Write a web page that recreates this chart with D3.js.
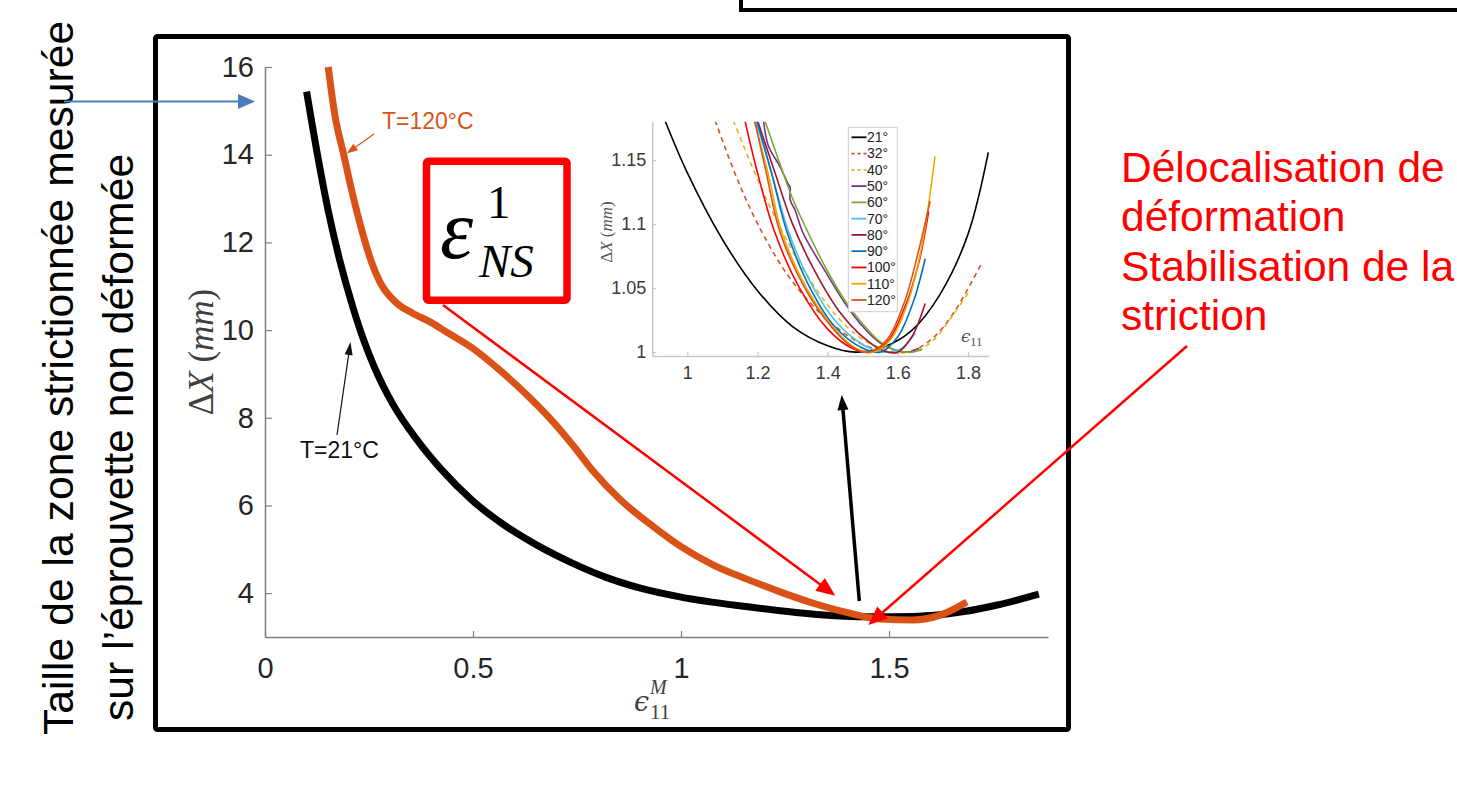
<!DOCTYPE html>
<html>
<head>
<meta charset="utf-8">
<script src="https://cdn.jsdelivr.net/npm/d3@7"></script>
<style>
  body { margin: 0; background: #fff; }
  svg { display: block; }
</style>
</head>
<body>
<svg width="1457" height="792" font-family="'Liberation Sans', Arial, sans-serif"></svg>
<script>
// main plot: [strain eps11^M, deltaX (mm)]
const curve21 = [[0.100,15.44],[0.128,13.9],[0.152,12.72],[0.18,11.58],[0.212,10.5],[0.24,9.7],[0.26,9.22],[0.308,8.3],[0.365,7.5],[0.421,6.85],[0.5,6.1],[0.58,5.52],[0.66,5.06],[0.74,4.68],[0.82,4.36],[0.9,4.12],[1.0,3.91],[1.16,3.69],[1.32,3.52],[1.45,3.46],[1.56,3.47],[1.68,3.58],[1.76,3.73],[1.86,3.98]];
const curve120 = [[0.152,16.0],[0.168,14.9],[0.188,14.05],[0.208,13.2],[0.232,12.3],[0.256,11.55],[0.276,11.1],[0.316,10.62],[0.356,10.38],[0.40,10.17],[0.437,9.95],[0.50,9.58],[0.565,9.08],[0.637,8.45],[0.693,7.9],[0.741,7.36],[0.789,6.78],[0.853,6.14],[0.933,5.52],[1.0,5.06],[1.078,4.64],[1.158,4.32],[1.238,4.03],[1.318,3.77],[1.398,3.56],[1.478,3.41],[1.558,3.39],[1.623,3.50],[1.687,3.80]];
const mainXTicks = [0, 0.5, 1, 1.5];
const mainYTicks = [4, 6, 8, 10, 12, 14, 16];

// inset: normalised deltaX vs eps11
const insetNames = ["21°", "32°", "40°", "50°", "60°", "70°", "80°", "90°", "100°", "110°", "120°"];
const insetColors = ["#000000", "#D95319", "#EDB120", "#7E2F8E", "#77AC30", "#4DBEEE", "#A2142F", "#0072BD", "#FF0000", "#F0A800", "#D95319"];
const insetDashed = [false, true, true, false, false, false, false, false, false, false, false];
const inset21 = [[0.936,1.181],[1.0,1.14],[1.1,1.088],[1.2,1.048],[1.3,1.02],[1.4,1.005],[1.48,1.0],[1.56,1.004],[1.64,1.017],[1.72,1.045],[1.8,1.092],[1.858,1.156]];
const inset32 = [[1.079,1.181],[1.15,1.13],[1.22,1.09],[1.3,1.055],[1.4,1.025],[1.5,1.006],[1.58,1.0],[1.64,1.001],[1.70,1.011],[1.76,1.031],[1.84,1.07]];
const inset40 = [[1.131,1.181],[1.2,1.135],[1.26,1.1],[1.33,1.065],[1.42,1.03],[1.5,1.01],[1.58,1.001],[1.64,1.0],[1.70,1.009],[1.76,1.03],[1.80,1.046]];
const inset50 = [[1.217,1.181],[1.231,1.161],[1.264,1.145],[1.288,1.131],[1.293,1.129],[1.293,1.119],[1.307,1.111],[1.33,1.093],[1.4,1.06],[1.45,1.038],[1.5,1.02],[1.55,1.007],[1.6,1.001],[1.63,1.0],[1.66,1.003]];
const inset60 = [[1.221,1.181],[1.26,1.15],[1.3,1.12],[1.35,1.09],[1.4,1.063],[1.45,1.04],[1.5,1.022],[1.55,1.008],[1.6,1.001],[1.64,1.0],[1.67,1.002]];
const inset70 = [[1.195,1.181],[1.24,1.14],[1.29,1.093],[1.35,1.055],[1.42,1.025],[1.5,1.006],[1.56,1.0],[1.61,1.003],[1.65,1.015]];
const inset80 = [[1.2,1.181],[1.25,1.14],[1.3,1.1],[1.36,1.065],[1.43,1.033],[1.5,1.012],[1.56,1.001],[1.6,1.0],[1.64,1.012],[1.678,1.038]];
const inset90 = [[1.198,1.181],[1.24,1.14],[1.285,1.093],[1.35,1.05],[1.42,1.02],[1.5,1.003],[1.55,1.0],[1.6,1.012],[1.645,1.04],[1.678,1.073]];
const inset100 = [[1.164,1.181],[1.2,1.14],[1.25,1.093],[1.32,1.05],[1.4,1.018],[1.47,1.003],[1.52,1.0],[1.57,1.008],[1.62,1.035],[1.66,1.07],[1.688,1.11]];
const inset110 = [[1.19,1.181],[1.23,1.14],[1.27,1.093],[1.34,1.05],[1.42,1.018],[1.48,1.003],[1.53,1.0],[1.58,1.01],[1.63,1.04],[1.67,1.085],[1.706,1.153]];
const inset120 = [[1.192,1.181],[1.225,1.14],[1.265,1.093],[1.335,1.05],[1.41,1.02],[1.47,1.004],[1.52,1.0],[1.57,1.01],[1.62,1.04],[1.66,1.08],[1.692,1.118]];
const insetSeries = [inset21, inset32, inset40, inset50, inset60, inset70, inset80, inset90, inset100, inset110, inset120];
const insetXTicks = [1, 1.2, 1.4, 1.6, 1.8];
const insetYTicks = [1, 1.05, 1.1, 1.15];

const sideLabel = ["Taille de la zone strictionnée mesurée", "sur l’éprouvette non déformée"];
const noteLines = ["Délocalisation de", "déformation", "Stabilisation de la", "striction"];

const SERIF = "'Liberation Serif', 'Times New Roman', serif";
const MATH = "'DejaVu Serif', serif";

let svg = d3.select("svg");

function render() {
  renderFrames();
  renderMain();
  renderInset();
  renderNotes();
}

function renderFrames() {
  svg.append("path")
    .attr("d", "M741,-2V10H1460")
    .attr("fill", "none")
    .attr("stroke", "#000")
    .attr("stroke-width", 4);
  svg.append("rect")
    .attr("x", 155.5).attr("y", 36.5)
    .attr("width", 913).attr("height", 693)
    .attr("rx", 2)
    .attr("fill", "none")
    .attr("stroke", "#000")
    .attr("stroke-width", 5);
}

function renderMain() {
  let xScale = d3.scaleLinear().domain([0, 1.882]).range([265, 1048]);
  let yScale = d3.scaleLinear().domain([3, 16]).range([637, 67]);

  let g = svg.append("g").attr("class", "main");

  let xAxis = d3.axisBottom(xScale).tickValues(mainXTicks).tickSize(-6).tickSizeOuter(0).tickPadding(20).tickFormat(d => d);
  let yAxis = d3.axisLeft(yScale).tickValues(mainYTicks).tickSize(-7).tickSizeOuter(0).tickPadding(11).tickFormat(d => d);

  g.append("g").attr("transform", `translate(0, ${637})`).call(styleAxis(xAxis, "#7f7f7f", 29));
  g.append("g").attr("transform", `translate(${265}, 0)`).call(styleAxis(yAxis, "#7f7f7f", 29));

  let line = d3.line().x(d => xScale(d[0])).y(d => yScale(d[1])).curve(d3.curveMonotoneX);

  g.append("path").datum(curve21)
    .attr("d", line).attr("fill", "none")
    .attr("stroke", "#000").attr("stroke-width", 7);
  g.append("path").datum(curve120)
    .attr("d", line).attr("fill", "none")
    .attr("stroke", "#D95319").attr("stroke-width", 7);

  // axis titles
  let yTitle = g.append("text")
    .attr("transform", "translate(213, 352) rotate(-90)")
    .attr("text-anchor", "middle")
    .attr("fill", "#404040")
    .attr("font-family", SERIF)
    .attr("font-size", 35);
  yTitle.append("tspan").text("Δ");
  yTitle.append("tspan").attr("font-style", "italic").text("X");
  yTitle.append("tspan").text(" (");
  yTitle.append("tspan").attr("font-style", "italic").text("mm");
  yTitle.append("tspan").text(")");

  let xTitle = g.append("g").attr("fill", "#404040");
  xTitle.append("text").attr("x", 634).attr("y", 711)
    .attr("font-family", MATH).attr("font-style", "italic").attr("font-size", 27).text("ϵ");
  xTitle.append("text").attr("x", 650).attr("y", 719)
    .attr("font-family", SERIF).attr("font-size", 21).text("11");
  xTitle.append("text").attr("x", 650).attr("y", 694)
    .attr("font-family", SERIF).attr("font-style", "italic").attr("font-size", 20).text("M");

  // curve annotations
  g.append("text").attr("x", 382).attr("y", 129)
    .attr("fill", "#D95319").attr("font-size", 23).text("T=120°C");
  drawArrow(g, [374, 134], [346.7, 153.5], "#D95319", 1.2, 11, 8);

  g.append("text").attr("x", 300).attr("y", 458)
    .attr("fill", "#111").attr("font-size", 23).text("T=21°C");
  drawArrow(g, [337, 435], [350.5, 342], "#111", 1.2, 13, 8);
}

function renderInset() {
  let xScale = d3.scaleLinear().domain([0.9, 1.86]).range([652.3, 989]);
  let yScale = d3.scaleLinear().domain([0.997, 1.18]).range([356, 121.7]);

  let g = svg.append("g").attr("class", "inset");

  let xAxis = d3.axisBottom(xScale).tickValues(insetXTicks).tickSize(-4).tickSizeOuter(0).tickPadding(10).tickFormat(d => d);
  let yAxis = d3.axisLeft(yScale).tickValues(insetYTicks).tickSize(-4).tickSizeOuter(0).tickPadding(6).tickFormat(d => d);

  g.append("g").attr("transform", `translate(0, ${356})`).call(styleAxis(xAxis, "#c8c8c8", 18, "#3a3a3a"));
  g.append("g").attr("transform", `translate(${652.3}, 0)`).call(styleAxis(yAxis, "#c8c8c8", 18, "#3a3a3a"));

  g.append("clipPath").attr("id", "insetClip")
    .append("rect")
    .attr("x", 652.3).attr("y", 121.7)
    .attr("width", 989 - 652.3).attr("height", 356 - 121.7);

  let line = d3.line().x(d => xScale(d[0])).y(d => yScale(d[1])).curve(d3.curveCatmullRom);

  g.append("g").attr("clip-path", "url(#insetClip)")
    .selectAll("path")
    .data(insetSeries)
    .enter()
    .append("path")
    .attr("d", line)
    .attr("fill", "none")
    .attr("stroke", (_, i) => insetColors[i])
    .attr("stroke-width", 1.6)
    .attr("stroke-dasharray", (_, i) => insetDashed[i] ? "5,4" : null);

  let yTitle = g.append("text")
    .attr("transform", "translate(612, 232) rotate(-90)")
    .attr("text-anchor", "middle")
    .attr("fill", "#555")
    .attr("font-family", SERIF)
    .attr("font-size", 17);
  yTitle.append("tspan").text("Δ");
  yTitle.append("tspan").attr("font-style", "italic").text("X");
  yTitle.append("tspan").text(" (");
  yTitle.append("tspan").attr("font-style", "italic").text("mm");
  yTitle.append("tspan").text(")");

  let xTitle = g.append("g").attr("fill", "#555");
  xTitle.append("text").attr("x", 961).attr("y", 342)
    .attr("font-family", MATH).attr("font-style", "italic").attr("font-size", 17).text("ϵ");
  xTitle.append("text").attr("x", 970).attr("y", 346)
    .attr("font-family", SERIF).attr("font-size", 13).text("11");

  // legend
  let legend = g.append("g").attr("class", "legend");
  legend.append("rect")
    .attr("x", 848.3).attr("y", 127.3)
    .attr("width", 49).attr("height", 184.4)
    .attr("fill", "#fff").attr("stroke", "#cfcfcf");

  let rowY = i => 137.3 + 16.27 * i;
  let rows = legend.selectAll(".row")
    .data(insetNames)
    .enter()
    .append("g")
    .attr("class", "row")
    .attr("transform", (_, i) => `translate(0, ${rowY(i)})`);
  rows.append("line")
    .attr("x1", 851.5).attr("x2", 866.5)
    .attr("stroke", (_, i) => insetColors[i])
    .attr("stroke-width", 1.8)
    .attr("stroke-dasharray", (_, i) => insetDashed[i] ? "3,3" : null);
  rows.append("text")
    .attr("x", 867)
    .attr("dy", "0.35em")
    .attr("fill", "#222")
    .attr("font-size", 14)
    .text(d => d);
}

function renderNotes() {
  let g = svg.append("g").attr("class", "notes");

  // side label
  let side = g.append("g").attr("fill", "#000").attr("font-size", 42.7);
  side.append("text").attr("transform", "translate(73, 735) rotate(-90)").text(sideLabel[0]);
  side.append("text").attr("transform", "translate(133, 721) rotate(-90)").text(sideLabel[1]);
  drawArrow(g, [64, 101.5], [255, 101.5], "#4A7EBB", 2, 17, 15);

  // red box with epsilon^1_NS
  g.append("rect")
    .attr("x", 426.5).attr("y", 161.3)
    .attr("width", 140.5).attr("height", 139)
    .attr("rx", 2)
    .attr("fill", "#fff")
    .attr("stroke", "#FF0000")
    .attr("stroke-width", 7.5);
  let eq = g.append("g").attr("fill", "#000");
  eq.append("text").attr("x", 440).attr("y", 258)
    .attr("font-family", SERIF).attr("font-style", "italic").attr("font-size", 84).text("ε");
  eq.append("text").attr("x", 487).attr("y", 218)
    .attr("font-family", SERIF).attr("font-size", 47).text("1");
  eq.append("text").attr("x", 479).attr("y", 277)
    .attr("font-family", SERIF).attr("font-style", "italic").attr("font-size", 47).text("NS");

  // arrows
  drawArrow(g, [443, 305], [835.3, 595.7], "#FF0000", 2.5, 19, 16);
  drawArrow(g, [1187, 346], [868.3, 625], "#FF0000", 2.5, 19, 16);
  drawArrow(g, [859.3, 601], [841.7, 395], "#000", 3.5, 15, 11);

  // red note
  g.selectAll(".note")
    .data(noteLines)
    .enter()
    .append("text")
    .attr("class", "note")
    .attr("x", 1121)
    .attr("y", (_, i) => 181.5 + 49.6 * i)
    .attr("fill", "#FF0000")
    .attr("font-size", 42.5)
    .text(d => d);
}

function styleAxis(axis, color, fontSize, textColor = "#262626") {
  return g => {
    g.call(axis);
    g.attr("font-family", null).attr("font-size", null);
    g.select(".domain").attr("stroke", color).attr("stroke-width", 1.5);
    g.selectAll(".tick line").attr("stroke", color).attr("stroke-width", 1.2);
    g.selectAll(".tick text")
      .attr("fill", textColor)
      .attr("font-size", fontSize);
  };
}

function drawArrow(g, from, to, color, width, headLength, headWidth) {
  let dx = to[0] - from[0];
  let dy = to[1] - from[1];
  let len = Math.hypot(dx, dy);
  let ux = dx / len;
  let uy = dy / len;
  let bx = to[0] - ux * headLength;
  let by = to[1] - uy * headLength;

  g.append("line")
    .attr("x1", from[0]).attr("y1", from[1])
    .attr("x2", bx + ux * 2).attr("y2", by + uy * 2)
    .attr("stroke", color)
    .attr("stroke-width", width);
  g.append("path")
    .attr("d", `M${to[0]},${to[1]}L${bx - uy * headWidth / 2},${by + ux * headWidth / 2}L${bx + uy * headWidth / 2},${by - ux * headWidth / 2}Z`)
    .attr("fill", color);
}

render();
</script>
</body>
</html>
